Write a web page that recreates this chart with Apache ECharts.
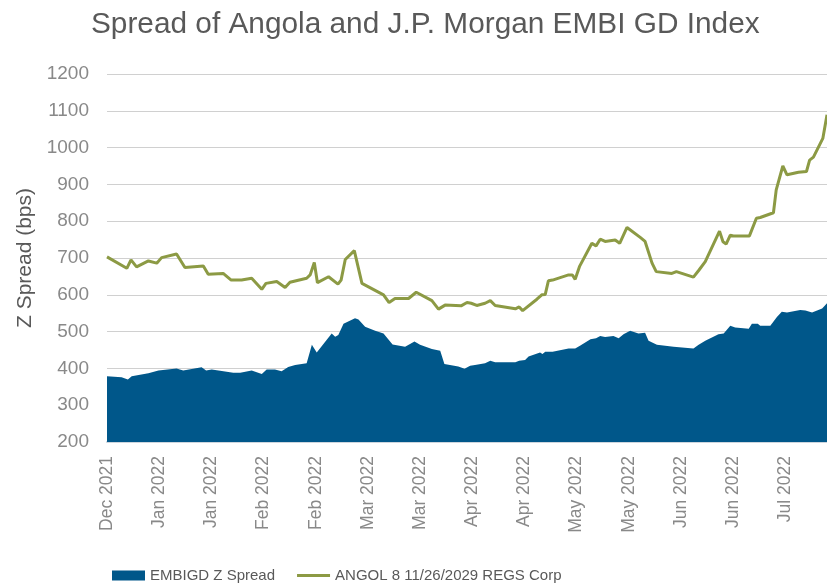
<!DOCTYPE html>
<html>
<head>
<meta charset="utf-8">
<title>Spread of Angola and J.P. Morgan EMBI GD Index</title>
<script src="https://cdn.jsdelivr.net/npm/echarts@6/dist/echarts.min.js"></script>
<style>
  html, body { margin: 0; padding: 0; background: #fff; }
  #chart { width: 827px; height: 588px; }
</style>
</head>
<body>
<div id="chart"></div>
<script>
// day offsets from 30 Dec 2021
const embiDays = [0, 4.2, 6.0, 7.1, 11.9, 14.8, 20.0, 21.9, 27.2, 28.5, 30.1, 33.0, 36.3, 38.3, 41.6, 44.5, 45.9, 48.3, 50.2, 52.1,
  54.1, 57.4, 58.9, 60.3, 64.6, 65.6, 66.5, 68.0, 71.3, 72.3, 74.2, 77.1, 79.5, 82.1, 85.7, 88.4, 90.0, 93.4, 95.8, 97.0,
  101.0, 102.8, 104.4, 105.8, 108.7, 110.2, 111.6, 117.4, 118.5, 120.2, 121.2, 124.5, 125.2, 126.0, 128.1, 132.7, 134.6, 136.1, 139.0, 140.6,
  141.8, 143.2, 145.6, 147.1, 148.5, 150.4, 152.8, 154.7, 155.7, 158.1, 162.9, 168.6, 170.1, 172.0, 175.8, 177.3, 179.2, 180.6, 184.5, 185.4,
  187.1, 187.8, 190.7, 192.6, 194.0, 195.5, 199.3, 200.8, 202.7, 205.6, 207.0]
const embiSpread = [379, 376, 370, 379, 387, 394, 400, 394, 403, 394, 397, 393, 388, 388, 394, 385, 397, 397, 392, 404,
  409, 414, 464, 443, 495, 486, 491, 521, 536, 533, 513, 502, 495, 465, 459, 473, 464, 453, 448, 412,
  405, 399, 407, 409, 414, 421, 417, 417, 421, 423, 432, 443, 439, 445, 445, 454, 454, 462, 479, 482,
  488, 485, 488, 482, 493, 502, 495, 497, 475, 464, 459, 454, 464, 475, 493, 495, 516, 511, 508, 521,
  521, 516, 516, 540, 554, 552, 559, 557, 552, 563, 577]

const angolDays = [0, 5.7, 6.9, 8.5, 11.9, 14.3, 15.7, 20.0, 22.4, 27.7, 29.1, 33.4, 35.7, 38.7, 41.6, 44.5, 45.7, 48.8, 51.2, 52.6,
  57.4, 58.4, 59.6, 60.5, 63.7, 66.4, 67.3, 68.5, 71.1, 73.3, 79.5, 81.1, 82.8, 86.7, 88.9, 93.4, 95.3, 97.2, 101.8, 103.5,
  104.7, 106.3, 108.7, 110.2, 111.6, 117.4, 118.5, 119.5, 123.6, 125.0, 126.0, 126.9, 128.1, 132.7, 133.8, 134.6, 135.9, 139.4, 140.6, 141.8,
  143.2, 146.1, 147.4, 149.5, 153.3, 154.7, 156.7, 157.9, 162.4, 163.7, 168.6, 170.1, 172.0, 176.1, 177.1, 178.0, 179.2, 180.1, 184.7, 186.7,
  187.8, 191.6, 192.4, 194.3, 195.5, 198.8, 201.1, 202.0, 203.1, 205.8, 207.0]
const angolSpread = [703, 672, 695, 676, 692, 686, 701, 711, 674, 678, 656, 658, 640, 640, 645, 615, 631, 636, 620, 634,
  645, 654, 688, 633, 649, 629, 640, 696, 720, 631, 600, 579, 590, 590, 607, 584, 561, 572, 570, 579,
  577, 571, 577, 584, 571, 562, 567, 557, 588, 600, 601, 638, 640, 654, 654, 642, 678, 740, 733, 751,
  745, 749, 740, 783, 756, 745, 686, 663, 658, 663, 648, 666, 690, 773, 744, 738, 762, 760, 760, 808,
  810, 823, 885, 950, 926, 933, 935, 966, 974, 1025, 1089]

const startDate = Date.UTC(2021, 11, 30)
const monthNames = ['Jan', 'Feb', 'Mar', 'Apr', 'May', 'Jun', 'Jul', 'Aug', 'Sep', 'Oct', 'Nov', 'Dec']
const tickStep = 15

const pairs = (xs, ys) => xs.map((x, i) => [x, ys[i]])

const grey = '#898989'
const dark = '#595959'
const font = "'Liberation Sans', Arial, sans-serif"

const chart = echarts.init(document.getElementById('chart'))
chart.setOption({
  animation: false,
  title: {
    text: 'Spread of Angola and J.P. Morgan EMBI GD Index',
    left: 86,
    top: 5,
    textStyle: { fontFamily: font, fontSize: 29.8, fontWeight: 'normal', color: dark }
  },
  grid: { left: 107, right: 0, top: 74, bottom: 146 },
  legend: {
    left: 107,
    top: 563,
    itemWidth: 33,
    itemHeight: 10,
    itemGap: 22,
    selectedMode: false,
    textStyle: { fontFamily: font, fontSize: 15, color: dark },
    data: [
      { name: 'EMBIGD Z Spread', icon: 'rect' },
      { name: 'ANGOL 8 11/26/2029 REGS Corp', icon: 'path://M0,0H33V3H0Z' }
    ]
  },
  xAxis: {
    type: 'value',
    min: 0,
    max: 207,
    interval: tickStep,
    axisLine: { show: true, lineStyle: { color: '#CDD5DD', width: 2 } },
    axisTick: { show: false },
    splitLine: { show: false },
    axisLabel: {
      rotate: 90,
      margin: 14,
      fontFamily: font,
      fontSize: 17.5,
      color: grey,
      showMaxLabel: false,
      formatter: (v) => {
        if (v % tickStep !== 0) return ''
        const d = new Date(startDate + v * 86400000)
        return monthNames[d.getUTCMonth()] + ' ' + d.getUTCFullYear()
      }
    }
  },
  yAxis: {
    type: 'value',
    min: 200,
    max: 1200,
    interval: 100,
    name: 'Z Spread (bps)',
    nameLocation: 'middle',
    nameGap: 61,
    nameTextStyle: { fontFamily: font, fontSize: 21, color: dark },
    axisLine: { show: false },
    axisTick: { show: false },
    axisLabel: { margin: 18, fontFamily: font, fontSize: 19, color: grey, formatter: (v) => String(v) },
    splitLine: { lineStyle: { color: '#D0D0D0', width: 1 } }
  },
  series: [
    {
      name: 'EMBIGD Z Spread',
      type: 'line',
      data: pairs(embiDays, embiSpread),
      symbol: 'none',
      lineStyle: { width: 0 },
      itemStyle: { color: '#00578A' },
      areaStyle: { color: '#00578A', opacity: 1, origin: 'start' },
      z: 2
    },
    {
      name: 'ANGOL 8 11/26/2029 REGS Corp',
      type: 'line',
      data: pairs(angolDays, angolSpread),
      symbol: 'none',
      lineStyle: { width: 3, color: '#8C9A44' },
      itemStyle: { color: '#8C9A44' },
      z: 3
    }
  ]
})
</script>
</body>
</html>
